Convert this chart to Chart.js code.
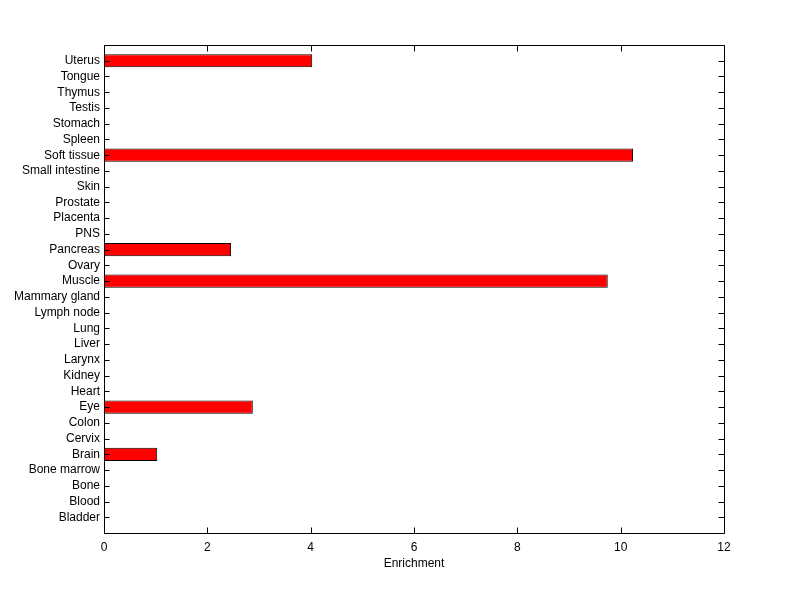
<!DOCTYPE html>
<html>
<head>
<title>Enrichment</title>
<style>
  html, body { margin: 0; padding: 0; background: #fff; }
  #wrap { width: 800px; height: 599px; }
</style>
</head>
<body>
<div id="wrap"><canvas id="EnrichmentChart" width="800" height="599"></canvas></div>
<script src="https://cdn.jsdelivr.net/npm/chart.js"></script>
<script>
// tissues from bottom to top, same order as the plot
const tissues = ['Bladder', 'Blood', 'Bone', 'Bone marrow', 'Brain', 'Cervix', 'Colon', 'Eye',
  'Heart', 'Kidney', 'Larynx', 'Liver', 'Lung', 'Lymph node', 'Mammary gland', 'Muscle',
  'Ovary', 'Pancreas', 'PNS', 'Placenta', 'Prostate', 'Skin', 'Small intestine', 'Soft tissue',
  'Spleen', 'Stomach', 'Testis', 'Thymus', 'Tongue', 'Uterus'];
const enrichment = [0, 0, 0, 0, 1.03, 0, 0, 2.88,
  0, 0, 0, 0, 0, 0, 0, 9.75,
  0, 2.46, 0, 0, 0, 0, 0, 10.24,
  0, 0, 0, 0, 0, 4.03];
const xTicks = [0, 2, 4, 6, 8, 10, 12];

const points = tissues.map((t, i) => ({ x: enrichment[i], y: i + 1 }));

// box round the plot with inward ticks like the matlab figure
const boxPlugin = {
  id: 'box',
  afterDraw(chart) {
    const c = chart.ctx, a = chart.chartArea;
    const xs = chart.scales.x, ys = chart.scales.y;
    const L = Math.round(a.left) + 0.5, R = Math.round(a.right) + 0.5;
    const T = Math.round(a.top) + 0.5, B = Math.round(a.bottom) + 0.5;
    c.save();
    c.strokeStyle = '#000';
    c.lineWidth = 1;
    c.beginPath();
    c.rect(L, T, R - L, B - T);
    xTicks.forEach(v => {
      const px = Math.round(xs.getPixelForValue(v)) + 0.5;
      c.moveTo(px, B); c.lineTo(px, B - 6);
      c.moveTo(px, T); c.lineTo(px, T + 6);
    });
    tissues.forEach((t, i) => {
      const py = Math.round(ys.getPixelForValue(i + 1)) + 0.5;
      c.moveTo(L, py); c.lineTo(L + 5, py);
      c.moveTo(R, py); c.lineTo(R - 6, py);
    });
    c.stroke();
    c.restore();
  }
};

const ctx = document.getElementById('EnrichmentChart');
new Chart(ctx, {
  type: 'bar',
  data: {
    datasets: [{
      data: points,
      backgroundColor: '#ff0000',
      borderColor: '#000',
      borderWidth: c => (c.raw && c.raw.x > 0 ? 1 : 0),
      borderSkipped: false,
      categoryPercentage: 0.84,
      barPercentage: 1
    }]
  },
  options: {
    indexAxis: 'y',
    responsive: false,
    animation: false,
    layout: { padding: { left: 0, right: 76, top: 45, bottom: 28 } },
    plugins: { legend: { display: false }, tooltip: { enabled: false } },
    scales: {
      x: {
        type: 'linear', min: 0, max: 12,
        afterBuildTicks: s => { s.ticks = xTicks.map(v => ({ value: v })); },
        afterFit: s => { s.height = 38; },
        grid: { display: false, drawTicks: false },
        border: { display: false },
        ticks: { color: '#000', padding: 7, font: { family: 'Arial', size: 12 } },
        title: { display: true, text: 'Enrichment', color: '#000', padding: { top: 2, bottom: 0 },
                 font: { family: 'Arial', size: 12 } }
      },
      y: {
        type: 'linear', min: 0, max: 31, offset: false,
        afterBuildTicks: s => { s.ticks = tissues.map((t, i) => ({ value: i + 1 })); },
        afterFit: s => { s.width = 104; },
        grid: { display: false, drawTicks: false, offset: false },
        border: { display: false },
        ticks: {
          color: '#000', padding: 4, autoSkip: false,
          font: { family: 'Arial', size: 12 },
          callback: v => tissues[v - 1] || ''
        }
      }
    }
  },
  plugins: [boxPlugin]
});
</script>
</body>
</html>
